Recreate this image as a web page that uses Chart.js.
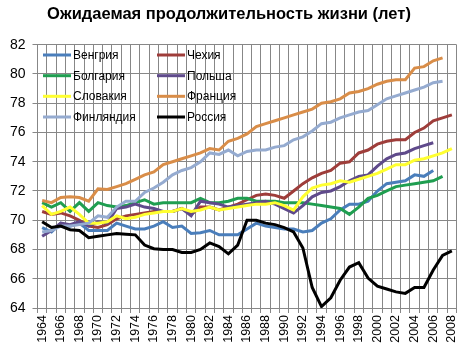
<!DOCTYPE html>
<html>
<head>
<meta charset="utf-8">
<script src="https://cdn.jsdelivr.net/npm/chart.js@4.4.1/dist/chart.umd.min.js"></script>
<style>
  body { margin: 0; background: #fff; }
</style>
</head>
<body>
<canvas id="chart" width="469" height="353"></canvas>
<script>
const years = [
  "1964", "1965", "1966", "1967", "1968", "1969", "1970", "1971", "1972", "1973",
  "1974", "1975", "1976", "1977", "1978", "1979", "1980", "1981", "1982", "1983",
  "1984", "1985", "1986", "1987", "1988", "1989", "1990", "1991", "1992", "1993",
  "1994", "1995", "1996", "1997", "1998", "1999", "2000", "2001", "2002", "2003",
  "2004", "2005", "2006", "2007", "2008"
];

const hungary = [
  69.5, 69.2, 69.8, 69.6, 69.8, 69.3, 69.3, 69.3, 69.8, 69.6,
  69.4, 69.4, 69.6, 69.9, 69.5, 69.6, 69.1, 69.15, 69.3, 69.0,
  69.0, 69.0, 69.4, 69.8, 69.6, 69.5, 69.4, 69.4, 69.2, 69.3,
  69.8, 70.1, 70.7, 71.1, 71.1, 71.3, 72.0, 72.5, 72.6, 72.7,
  73.1, 73.0, 73.4, null, null
];
const czech = [
  70.6, 70.4, 70.5, 70.3, 70.0, 69.6, 69.5, 69.7, 70.1, 70.3,
  70.4, 70.5, 70.6, 70.6, 70.6, 70.8, 70.4, 70.9, 70.9, 70.7,
  70.9, 71.1, 71.4, 71.7, 71.8, 71.7, 71.5, 72.0, 72.5, 72.9,
  73.2, 73.4, 73.9, 74.0, 74.6, 74.8, 75.2, 75.4, 75.5, 75.5,
  76.0, 76.3, 76.8, 77.0, 77.2
];
const bulgaria = [
  71.2, 70.9, 71.2, 70.6, 71.2, 70.6, 71.2, 71.0, 70.9, 71.0,
  71.2, 71.4, 71.1, 71.2, 71.2, 71.2, 71.2, 71.5, 71.2, 71.2,
  71.3, 71.5, 71.5, 71.3, 71.3, 71.3, 71.2, 71.2, 71.2, 71.1,
  71.0, 70.9, 70.8, 70.4, 70.9, 71.5, 71.7, 72.0, 72.3, 72.4,
  72.5, 72.6, 72.7, 73.0, null
];
const poland = [
  68.9, 69.3, 69.8, 69.7, 69.9, 69.6, 69.9, 69.8, 70.8, 70.9,
  71.1, 70.9, 70.8, 70.6, 70.6, 70.8, 70.3, 71.3, 71.2, 71.1,
  70.9, 71.0, 71.1, 71.2, 71.3, 71.1, 70.8, 70.5, 71.0, 71.6,
  71.9, 72.0, 72.3, 72.7, 73.0, 73.1, 73.7, 74.2, 74.5, 74.6,
  74.9, 75.1, 75.3, null, null
];
const slovakia = [
  71.0, 70.4, 70.6, 70.9, 70.4, 69.8, 69.8, 69.9, 70.3, 70.1,
  70.2, 70.4, 70.5, 70.6, 70.6, 70.8, 70.6, 70.7, 70.9, 70.7,
  70.8, 70.9, 71.0, 71.1, 71.1, 71.2, 71.0, 70.7, 71.6, 72.2,
  72.4, 72.5, 72.7, 72.6, 72.8, 73.0, 73.2, 73.5, 73.8, 73.8,
  74.1, 74.2, 74.4, 74.6, 74.9
];
const france = [
  71.35, 71.2, 71.55, 71.6, 71.55, 71.3, 72.15, 72.1, 72.3, 72.5,
  72.8, 73.1, 73.3, 73.8, 74.0, 74.2, 74.4, 74.6, 74.9, 74.8,
  75.4, 75.6, 75.9, 76.4, 76.6, 76.8, 77.0, 77.2, 77.4, 77.6,
  78.0, 78.1, 78.3, 78.7, 78.8, 79.0, 79.3, 79.5, 79.6, 79.6,
  80.4, 80.5, 80.9, 81.1, null
];
const finland = [
  69.2, 69.3, 69.6, 69.6, 69.7, 69.8, 70.3, 70.2, 70.9, 71.3,
  71.3, 71.9, 72.2, 72.6, 73.1, 73.4, 73.6, 74.0, 74.6, 74.5,
  74.8, 74.4, 74.7, 74.8, 74.8, 75.0, 75.1, 75.5, 75.7, 76.1,
  76.6, 76.7, 77.0, 77.2, 77.4, 77.5, 77.9, 78.3, 78.5, 78.7,
  78.9, 79.1, 79.4, 79.5, null
];
const russia = [
  69.9, 69.5, 69.6, 69.35, 69.3, 68.8, 68.9, 69.0, 69.1, 69.05,
  69.0, 68.3, 68.05, 68.0, 68.0, 67.8, 67.8, 68.0, 68.45, 68.2,
  67.7, 68.3, 70.0, 70.0, 69.8, 69.7, 69.5, 69.2, 68.1, 65.4,
  64.1, 64.7, 65.9, 66.8, 67.1, 66.05, 65.5, 65.3, 65.1, 65.0,
  65.4, 65.4, 66.6, 67.6, 67.9
];

const seriesNames = ["Венгрия", "Чехия", "Болгария", "Польша", "Словакия", "Франция", "Финляндия", "Россия"];
const seriesData = [hungary, czech, bulgaria, poland, slovakia, france, finland, russia];
const seriesColors = ["#4a7ebb", "#9e3d3a", "#1f9e50", "#5f4a8b", "#ffff30", "#d98d48", "#95abd0", "#000000"];

Chart.defaults.font.family = "'Liberation Sans', Arial, sans-serif";
Chart.defaults.color = "#000";

// legend sits inside the plot, two columns like in excel
const insideLegend = {
  id: "insideLegend",
  afterDatasetsDraw(chart) {
    const c = chart.ctx;
    const colX = [43, 157];
    const rowY = [55, 75.7, 96.3, 117];
    c.save();
    c.font = "12px 'Liberation Sans', Arial, sans-serif";
    c.textBaseline = "middle";
    c.lineWidth = 3;
    seriesNames.forEach((name, i) => {
      const x = colX[i % 2];
      const y = rowY[Math.floor(i / 2)];
      c.strokeStyle = seriesColors[i];
      c.beginPath();
      c.moveTo(x, y);
      c.lineTo(x + 28, y);
      c.stroke();
      c.fillStyle = "#000";
      c.fillText(name, x + 30, y + 0.5);
    });
    c.restore();
  }
};

const datasets = seriesNames.map((name, i) => ({
  label: name,
  data: seriesData[i],
  borderColor: seriesColors[i],
  backgroundColor: seriesColors[i],
  borderWidth: 3,
  pointRadius: 0,
  tension: 0,
  spanGaps: false,
  order: seriesNames.length - i
}));

new Chart(document.getElementById("chart"), {
  type: "line",
  data: { labels: years, datasets: datasets },
  options: {
    responsive: false,
    animation: false,
    devicePixelRatio: 1,
    layout: { padding: { left: 0, right: 11, top: 0, bottom: 0 } },
    plugins: {
      legend: { display: false },
      tooltip: { enabled: false },
      title: {
        display: true,
        text: "Ожидаемая продолжительность жизни (лет)",
        color: "#000",
        font: { size: 16.5, weight: "bold" },
        padding: { top: 5, bottom: 19.9 }
      }
    },
    scales: {
      x: {
        offset: true,
        grid: { offset: true, color: "#878787", tickLength: 5 },
        border: { color: "#878787" },
        ticks: {
          autoSkip: false,
          minRotation: 90,
          maxRotation: 90,
          padding: 2,
          font: { size: 12.5 },
          callback: function (value, index) {
            return index % 2 === 0 ? this.getLabelForValue(value) : "";
          }
        },
        afterFit: (scale) => { scale.height = 45; }
      },
      y: {
        min: 64,
        max: 82,
        ticks: { stepSize: 2, padding: 7, font: { size: 14 } },
        grid: { color: "#878787", tickLength: 5 },
        border: { color: "#878787" },
        afterFit: (scale) => { scale.width = 37.5; }
      }
    }
  },
  plugins: [insideLegend]
});
</script>
</body>
</html>
